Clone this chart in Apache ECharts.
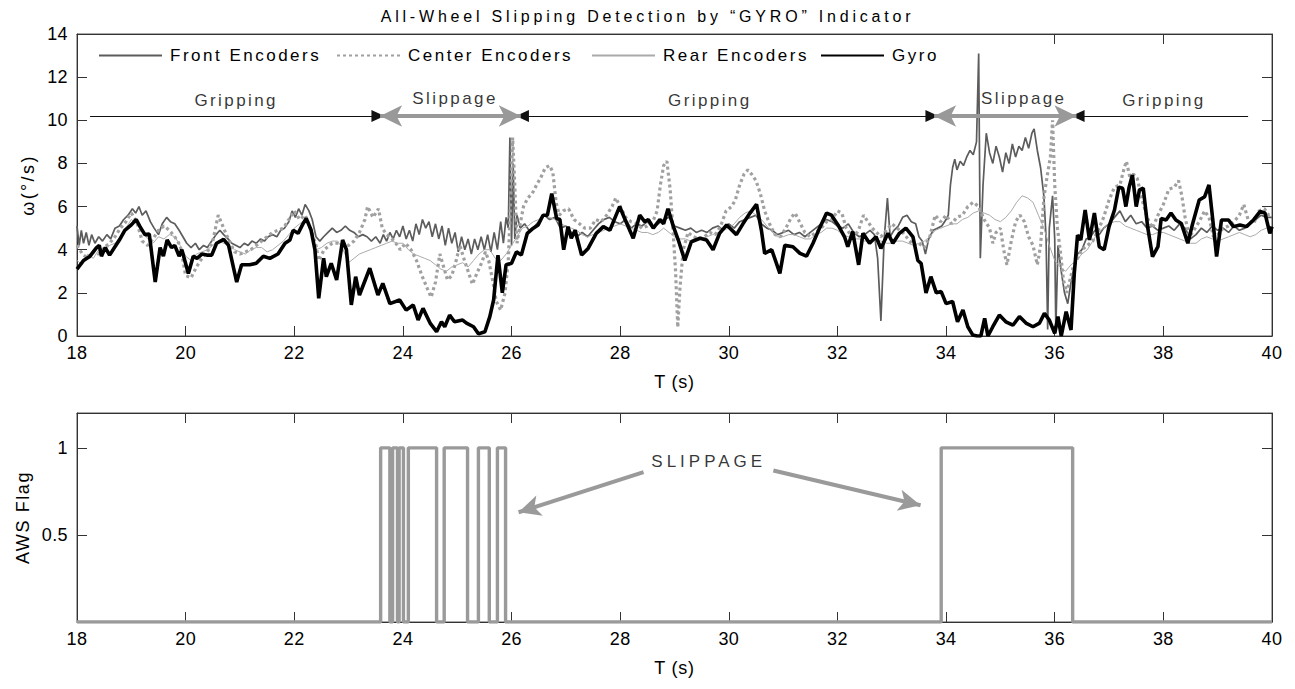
<!DOCTYPE html>
<html><head><meta charset="utf-8">
<script src="https://cdn.jsdelivr.net/npm/echarts@6/dist/echarts.min.js"></script>
<style>html,body{margin:0;padding:0;background:#fff}#main{width:1295px;height:689px}</style>
</head><body><div id="main"></div>
<script>
const titleText = 'All-Wheel Slipping Detection by “GYRO” Indicator';
const xTicks = {min:18, max:40, interval:2};
const seriesNames = ['Front Encoders','Center Encoders','Rear Encoders','Gyro'];
const flagTickLabels = [0.5, 1];

const gyro = [[18.00,3.1],[18.12,3.5],[18.24,3.7],[18.36,4.1],[18.41,4.2],[18.45,3.7],[18.52,4.1],[18.60,3.75],[18.69,4.1],[18.78,4.45],[18.88,4.9],[19.00,5.15],[19.09,5.4],[19.16,5.07],[19.25,4.7],[19.33,4.73],[19.44,2.5],[19.53,4.1],[19.59,3.7],[19.66,4.45],[19.74,4.1],[19.80,4.2],[19.88,3.7],[19.93,4.0],[20.05,2.9],[20.14,3.7],[20.21,3.6],[20.30,3.8],[20.39,3.75],[20.48,3.75],[20.57,4.3],[20.70,4.48],[20.79,4.2],[20.94,2.5],[21.03,3.3],[21.18,3.3],[21.30,3.37],[21.43,3.7],[21.55,3.6],[21.70,3.8],[21.83,4.3],[21.92,4.45],[21.98,4.9],[22.07,4.76],[22.16,5.2],[22.22,5.45],[22.31,4.9],[22.38,4.0],[22.45,1.75],[22.54,3.6],[22.59,2.75],[22.68,3.37],[22.78,2.6],[22.89,4.45],[22.96,4.0],[23.05,1.44],[23.13,2.75],[23.20,1.9],[23.39,3.14],[23.54,1.9],[23.63,2.44],[23.76,1.5],[23.94,1.67],[24.06,1.2],[24.19,1.44],[24.28,0.74],[24.37,1.28],[24.50,0.6],[24.62,0.2],[24.71,0.66],[24.77,0.43],[24.86,0.97],[24.95,0.66],[25.10,0.74],[25.17,0.6],[25.30,0.43],[25.39,0.1],[25.51,0.2],[25.60,0.9],[25.67,1.67],[25.75,3.75],[25.83,2.0],[25.90,3.3],[26.00,3.37],[26.09,3.9],[26.18,3.75],[26.29,4.76],[26.40,5.0],[26.49,5.15],[26.58,5.6],[26.66,5.6],[26.74,6.6],[26.83,5.45],[26.89,5.4],[26.96,4.0],[27.04,5.07],[27.10,4.53],[27.17,4.9],[27.29,3.75],[27.41,4.06],[27.56,4.76],[27.69,5.07],[27.81,4.9],[27.90,5.45],[27.99,6.0],[28.09,5.4],[28.24,4.53],[28.36,5.6],[28.45,5.3],[28.52,5.4],[28.61,5.0],[28.73,5.4],[28.80,5.2],[28.88,5.9],[28.98,5.07],[29.07,4.45],[29.19,3.5],[29.31,4.37],[29.47,4.53],[29.59,4.45],[29.71,4.0],[29.83,4.76],[29.96,5.15],[30.14,4.7],[30.26,5.2],[30.39,5.7],[30.51,6.1],[30.60,4.9],[30.66,3.83],[30.79,4.0],[30.94,2.9],[31.03,4.2],[31.18,4.14],[31.31,3.83],[31.43,3.7],[31.55,4.3],[31.67,5.0],[31.80,5.7],[31.89,5.6],[32.01,5.15],[32.13,4.6],[32.19,4.14],[32.28,4.84],[32.39,3.3],[32.47,4.76],[32.59,4.3],[32.71,4.6],[32.80,4.06],[32.93,4.76],[33.02,4.3],[33.14,4.76],[33.26,5.0],[33.39,4.6],[33.48,3.5],[33.54,3.37],[33.63,2.0],[33.72,2.75],[33.82,2.0],[33.91,2.06],[34.00,1.5],[34.12,1.6],[34.21,0.66],[34.31,1.2],[34.40,0.43],[34.49,0.05],[34.57,0.0],[34.64,0.0],[34.71,0.82],[34.77,0.0],[34.86,0.43],[34.98,0.97],[35.10,0.66],[35.23,0.5],[35.35,0.9],[35.47,0.6],[35.60,0.43],[35.72,0.6],[35.81,1.05],[35.90,0.74],[36.00,0.12],[36.06,0.9],[36.12,0.0],[36.21,1.13],[36.30,0.28],[36.36,2.9],[36.42,4.68],[36.48,4.45],[36.56,5.84],[36.64,4.45],[36.73,5.7],[36.82,4.14],[36.91,4.0],[37.00,5.07],[37.10,5.84],[37.18,6.9],[37.25,6.85],[37.31,6.0],[37.37,6.9],[37.43,7.47],[37.50,6.0],[37.56,6.77],[37.63,6.85],[37.71,5.07],[37.80,3.68],[37.90,4.14],[37.96,5.45],[38.05,5.38],[38.14,5.7],[38.23,5.38],[38.33,5.22],[38.45,4.3],[38.54,5.22],[38.66,6.3],[38.76,6.46],[38.84,7.0],[38.91,5.38],[38.98,3.68],[39.07,5.38],[39.20,5.38],[39.29,5.07],[39.41,5.15],[39.53,5.07],[39.66,5.38],[39.78,5.77],[39.87,5.7],[39.96,4.76],[40.00,5.07]];

const front = [[18.00,5.1],[18.04,4.2],[18.08,4.9],[18.12,4.3],[18.17,4.8],[18.22,4.2],[18.27,4.7],[18.33,4.3],[18.40,4.6],[18.47,4.4],[18.55,4.7],[18.62,4.5],[18.70,5.0],[18.78,5.1],[18.86,5.4],[18.94,5.6],[19.02,5.9],[19.08,5.7],[19.14,6.0],[19.20,5.6],[19.27,5.8],[19.35,5.3],[19.42,5.0],[19.50,4.7],[19.57,5.2],[19.65,5.5],[19.72,5.3],[19.80,5.2],[19.88,4.9],[19.95,4.6],[20.02,4.3],[20.10,4.1],[20.18,4.3],[20.25,4.0],[20.33,4.2],[20.40,4.1],[20.48,4.4],[20.56,4.7],[20.63,4.9],[20.70,4.7],[20.78,4.5],[20.85,4.3],[20.93,4.2],[21.00,4.1],[21.08,4.3],[21.15,4.2],[21.22,4.4],[21.30,4.3],[21.38,4.5],[21.45,4.4],[21.52,4.6],[21.60,4.7],[21.68,4.6],[21.75,4.9],[21.82,5.0],[21.90,5.3],[21.96,5.8],[22.02,5.5],[22.08,5.9],[22.14,5.6],[22.20,6.1],[22.27,5.8],[22.33,5.4],[22.40,4.6],[22.47,4.4],[22.54,4.6],[22.62,4.8],[22.70,5.0],[22.78,4.8],[22.86,4.9],[22.94,5.1],[23.02,4.9],[23.10,4.8],[23.18,4.6],[23.26,4.7],[23.34,4.6],[23.42,4.4],[23.50,4.6],[23.58,4.3],[23.64,4.7],[23.70,4.4],[23.76,4.8],[23.82,4.5],[23.88,4.9],[23.94,4.6],[24.00,5.1],[24.06,4.5],[24.12,4.9],[24.18,4.4],[24.24,5.2],[24.30,4.7],[24.36,5.4],[24.42,5.0],[24.48,5.3],[24.54,4.6],[24.60,5.2],[24.66,4.5],[24.72,5.1],[24.78,4.2],[24.84,5.0],[24.90,4.3],[24.96,4.8],[25.02,3.9],[25.08,4.6],[25.14,4.0],[25.20,4.5],[25.26,3.8],[25.32,4.5],[25.38,4.0],[25.44,4.6],[25.50,4.0],[25.56,4.7],[25.62,3.9],[25.68,4.8],[25.74,4.0],[25.80,5.3],[25.85,4.3],[25.90,5.5],[25.94,5.0],[25.97,9.2],[26.00,4.2],[26.03,8.0],[26.06,4.5],[26.10,5.6],[26.16,5.0],[26.24,5.2],[26.32,4.9],[26.40,5.0],[26.50,5.3],[26.60,5.6],[26.70,5.4],[26.80,5.5],[26.90,5.0],[27.00,5.1],[27.10,4.8],[27.20,4.6],[27.30,4.8],[27.40,4.6],[27.50,4.9],[27.60,5.2],[27.70,5.4],[27.80,5.5],[27.90,5.3],[28.00,5.2],[28.10,5.4],[28.20,5.0],[28.30,5.2],[28.40,5.1],[28.50,5.3],[28.60,5.0],[28.70,5.2],[28.80,5.4],[28.90,5.5],[29.00,5.1],[29.10,5.0],[29.20,4.9],[29.30,5.0],[29.40,4.8],[29.50,4.9],[29.60,4.8],[29.70,5.0],[29.80,5.1],[29.90,4.9],[30.00,5.2],[30.10,5.0],[30.20,5.3],[30.30,5.4],[30.40,5.5],[30.50,5.6],[30.60,5.2],[30.70,5.0],[30.80,4.9],[30.90,4.7],[31.00,4.8],[31.10,4.9],[31.20,4.7],[31.30,4.8],[31.40,4.6],[31.50,4.8],[31.60,5.0],[31.70,5.2],[31.80,5.4],[31.90,5.3],[32.00,5.1],[32.10,5.0],[32.20,5.2],[32.30,4.8],[32.40,4.6],[32.50,4.7],[32.60,4.9],[32.68,4.7],[32.74,3.6],[32.80,0.7],[32.86,4.5],[32.92,6.4],[32.97,4.6],[33.04,4.9],[33.12,5.1],[33.20,5.5],[33.28,5.6],[33.36,5.3],[33.44,5.2],[33.50,4.6],[33.56,4.4],[33.62,3.8],[33.68,4.5],[33.76,4.9],[33.84,5.0],[33.92,5.1],[34.00,5.4],[34.04,5.6],[34.08,7.0],[34.12,7.8],[34.16,8.2],[34.20,7.7],[34.26,8.1],[34.32,7.9],[34.38,8.3],[34.44,8.6],[34.50,8.4],[34.56,9.0],[34.60,13.1],[34.63,3.6],[34.68,7.0],[34.74,9.4],[34.80,8.5],[34.86,8.0],[34.92,8.8],[34.98,8.3],[35.04,7.6],[35.10,8.5],[35.16,8.0],[35.22,8.9],[35.28,8.3],[35.34,8.8],[35.40,8.6],[35.46,9.2],[35.52,8.7],[35.58,9.4],[35.62,9.6],[35.68,8.6],[35.74,7.8],[35.80,6.5],[35.84,4.6],[35.87,0.3],[35.90,5.0],[35.96,6.5],[36.00,4.5],[36.02,0.3],[36.06,4.2],[36.12,3.0],[36.18,2.0],[36.24,1.5],[36.30,2.5],[36.36,3.2],[36.42,3.8],[36.50,4.0],[36.58,4.5],[36.66,4.6],[36.74,4.9],[36.82,4.7],[36.90,5.0],[37.00,5.2],[37.10,5.5],[37.20,5.8],[37.30,5.3],[37.40,5.6],[37.50,5.2],[37.60,5.3],[37.70,5.0],[37.80,5.1],[37.90,4.9],[38.00,5.0],[38.10,5.1],[38.20,4.9],[38.30,5.2],[38.40,5.0],[38.50,4.5],[38.60,4.7],[38.70,5.0],[38.80,4.8],[38.90,5.1],[39.00,4.9],[39.10,5.0],[39.20,4.8],[39.30,5.1],[39.40,4.9],[39.50,5.0],[39.60,5.2],[39.70,5.4],[39.80,5.6],[39.90,5.5],[40.00,5.5]];

const center = [[18.0,4.2],[18.1,3.8],[18.2,3.6],[18.3,3.9],[18.4,3.8],[18.5,4.1],[18.6,4.3],[18.7,4.6],[18.8,5.0],[18.9,5.3],[19.0,5.7],[19.1,5.3],[19.2,4.4],[19.3,4.2],[19.4,4.5],[19.5,4.9],[19.6,5.1],[19.7,4.9],[19.8,4.6],[19.9,4.2],[20.0,2.8],[20.1,2.7],[20.2,3.2],[20.3,3.6],[20.4,3.9],[20.5,4.4],[20.6,5.6],[20.7,5.0],[20.8,4.4],[20.9,3.9],[21.0,3.8],[21.1,3.9],[21.2,4.0],[21.3,4.2],[21.4,4.4],[21.5,4.6],[21.6,4.8],[21.7,4.9],[21.8,5.0],[21.9,5.4],[22.0,5.8],[22.1,5.4],[22.2,5.6],[22.3,5.0],[22.4,4.2],[22.45,3.5],[22.55,4.0],[22.7,4.3],[22.85,4.3],[23.0,4.2],[23.1,4.4],[23.2,4.8],[23.3,5.4],[23.35,6.0],[23.45,5.5],[23.55,5.9],[23.62,5.0],[23.7,4.7],[23.8,4.5],[23.9,4.2],[23.95,4.0],[24.05,4.3],[24.15,4.0],[24.25,3.5],[24.35,2.8],[24.45,2.2],[24.52,1.8],[24.6,2.5],[24.68,3.8],[24.75,3.2],[24.82,2.6],[24.9,2.8],[24.97,3.4],[25.05,4.2],[25.12,3.6],[25.2,3.0],[25.28,2.4],[25.36,2.9],[25.45,3.4],[25.52,3.9],[25.58,3.5],[25.65,2.6],[25.72,1.6],[25.8,1.2],[25.88,2.0],[25.94,3.5],[25.98,6.0],[26.02,9.2],[26.06,7.0],[26.1,4.3],[26.16,5.2],[26.22,6.0],[26.3,6.4],[26.38,6.6],[26.46,7.0],[26.55,7.4],[26.62,7.8],[26.7,7.9],[26.76,7.6],[26.82,6.2],[26.88,5.6],[26.95,5.8],[27.05,5.9],[27.15,5.4],[27.25,5.2],[27.35,5.0],[27.45,5.0],[27.55,5.4],[27.65,5.3],[27.75,5.6],[27.85,6.0],[27.92,6.4],[28.0,6.0],[28.1,5.5],[28.2,5.3],[28.3,5.2],[28.4,5.0],[28.5,5.1],[28.6,5.3],[28.68,5.8],[28.74,7.0],[28.8,7.9],[28.86,8.1],[28.92,6.8],[28.97,5.0],[29.02,3.0],[29.06,0.4],[29.1,2.2],[29.16,4.0],[29.25,4.8],[29.35,4.6],[29.45,4.5],[29.55,4.6],[29.65,4.8],[29.75,4.7],[29.85,5.1],[29.95,5.8],[30.05,6.0],[30.12,6.3],[30.2,7.0],[30.28,7.5],[30.35,7.7],[30.42,7.5],[30.5,7.2],[30.58,6.6],[30.66,5.8],[30.75,5.2],[30.85,4.7],[30.95,4.6],[31.05,5.0],[31.15,5.5],[31.22,5.7],[31.3,5.3],[31.4,4.8],[31.5,4.6],[31.6,4.8],[31.7,5.0],[31.8,5.3],[31.9,5.4],[32.0,5.8],[32.08,5.7],[32.16,5.0],[32.24,4.7],[32.32,4.6],[32.4,5.0],[32.48,5.6],[32.56,5.3],[32.64,5.0],[32.72,4.8],[32.8,4.6],[32.9,4.9],[33.0,5.2],[33.1,5.0],[33.2,4.8],[33.3,4.5],[33.4,4.2],[33.5,4.3],[33.6,4.1],[33.7,4.6],[33.8,5.6],[33.9,5.3],[34.0,5.6],[34.1,5.2],[34.2,5.5],[34.3,5.6],[34.4,6.0],[34.5,6.2],[34.6,6.0],[34.7,5.4],[34.8,5.0],[34.86,4.3],[34.92,4.8],[35.0,5.0],[35.06,4.0],[35.12,3.3],[35.2,4.4],[35.28,5.3],[35.36,5.6],[35.44,5.3],[35.52,4.6],[35.6,4.2],[35.68,3.3],[35.74,4.2],[35.8,6.4],[35.86,7.4],[35.92,8.3],[35.96,10.0],[36.0,7.0],[36.05,5.0],[36.1,4.0],[36.16,2.6],[36.22,2.0],[36.28,2.6],[36.34,3.2],[36.4,3.5],[36.5,4.0],[36.6,4.2],[36.7,4.4],[36.8,4.9],[36.9,5.5],[37.0,6.3],[37.1,6.9],[37.2,7.0],[37.28,7.8],[37.32,8.1],[37.38,7.4],[37.45,7.5],[37.52,7.3],[37.6,6.4],[37.7,5.5],[37.8,5.0],[37.9,5.6],[38.0,6.1],[38.1,6.8],[38.2,6.9],[38.28,7.2],[38.34,6.5],[38.4,5.5],[38.48,4.6],[38.56,4.9],[38.66,5.3],[38.76,5.8],[38.84,5.5],[38.92,4.6],[39.0,4.7],[39.1,5.0],[39.2,5.1],[39.3,5.3],[39.4,5.6],[39.48,6.1],[39.56,5.4],[39.66,5.2],[39.76,5.8],[39.86,5.9],[39.94,5.6],[40.0,5.7]];

const rear = [[18.0,3.5],[18.1,3.3],[18.2,3.8],[18.3,3.6],[18.4,4.0],[18.5,3.9],[18.6,4.2],[18.7,4.3],[18.8,4.6],[18.9,5.0],[19.0,5.4],[19.1,5.2],[19.2,4.9],[19.3,4.5],[19.4,4.3],[19.5,4.6],[19.6,4.5],[19.7,4.7],[19.8,4.6],[19.9,4.2],[20.0,3.7],[20.1,3.5],[20.2,3.8],[20.3,3.9],[20.4,4.0],[20.5,4.2],[20.6,4.4],[20.7,4.3],[20.8,4.2],[20.9,4.0],[21.0,3.9],[21.1,3.8],[21.2,4.0],[21.3,4.1],[21.4,4.1],[21.5,3.9],[21.6,4.0],[21.7,4.2],[21.8,4.4],[21.9,4.7],[22.0,5.0],[22.1,5.2],[22.2,5.4],[22.3,5.0],[22.4,4.0],[22.5,4.1],[22.6,4.3],[22.7,4.4],[22.8,4.4],[22.9,4.0],[23.0,3.4],[23.1,3.6],[23.2,3.8],[23.3,3.9],[23.4,4.0],[23.5,4.1],[23.6,4.2],[23.7,4.3],[23.8,4.4],[23.9,4.3],[24.0,4.3],[24.1,4.0],[24.2,3.8],[24.3,3.7],[24.4,3.6],[24.5,3.5],[24.6,3.3],[24.7,3.1],[24.8,3.0],[24.9,3.2],[25.0,3.3],[25.1,3.4],[25.2,3.2],[25.3,3.5],[25.4,3.8],[25.5,4.0],[25.6,4.0],[25.7,3.6],[25.8,3.5],[25.9,3.8],[26.0,4.2],[26.1,4.6],[26.2,5.0],[26.3,5.1],[26.4,5.3],[26.5,5.4],[26.6,5.6],[26.7,5.5],[26.8,5.4],[26.9,5.2],[27.0,5.1],[27.1,5.0],[27.2,4.9],[27.3,4.7],[27.4,4.6],[27.5,4.7],[27.6,4.8],[27.7,4.9],[27.8,5.0],[27.9,5.1],[28.0,5.2],[28.1,5.1],[28.2,5.0],[28.3,4.9],[28.4,4.8],[28.5,4.8],[28.6,4.7],[28.7,4.8],[28.8,5.0],[28.9,4.8],[29.0,4.6],[29.1,4.5],[29.2,4.5],[29.3,4.4],[29.4,4.5],[29.5,4.5],[29.6,4.6],[29.7,4.7],[29.8,4.8],[29.9,4.9],[30.0,5.0],[30.1,5.2],[30.2,5.5],[30.3,5.7],[30.4,5.8],[30.5,5.6],[30.6,5.4],[30.7,5.1],[30.8,4.8],[30.9,4.6],[31.0,4.6],[31.1,4.7],[31.2,4.7],[31.3,4.6],[31.4,4.5],[31.5,4.5],[31.6,4.7],[31.7,4.8],[31.8,5.0],[31.9,5.0],[32.0,4.9],[32.1,4.7],[32.2,4.6],[32.3,4.5],[32.4,4.5],[32.5,4.4],[32.6,4.4],[32.7,4.5],[32.8,4.4],[32.9,4.3],[33.0,4.3],[33.1,4.4],[33.2,4.4],[33.3,4.3],[33.4,4.2],[33.5,4.3],[33.6,4.4],[33.7,4.6],[33.8,4.9],[33.9,5.0],[34.0,5.1],[34.1,5.2],[34.2,5.2],[34.3,5.4],[34.4,5.5],[34.5,5.7],[34.6,5.8],[34.7,5.7],[34.8,5.6],[34.9,5.4],[35.0,5.3],[35.1,5.5],[35.2,5.8],[35.3,6.2],[35.4,6.5],[35.5,6.4],[35.6,6.2],[35.7,5.6],[35.8,5.0],[35.9,4.2],[36.0,3.5],[36.1,3.2],[36.2,3.0],[36.3,3.3],[36.4,3.5],[36.5,3.8],[36.6,4.0],[36.7,4.4],[36.8,4.8],[36.9,5.0],[37.0,5.2],[37.1,5.3],[37.2,5.3],[37.3,5.1],[37.4,5.0],[37.5,4.9],[37.6,4.8],[37.7,4.7],[37.8,4.7],[37.9,4.8],[38.0,4.8],[38.1,4.7],[38.2,4.6],[38.3,4.5],[38.4,4.4],[38.5,4.3],[38.6,4.3],[38.7,4.5],[38.8,4.6],[38.9,4.5],[39.0,4.4],[39.1,4.5],[39.2,4.6],[39.3,4.7],[39.4,4.8],[39.5,4.7],[39.6,4.6],[39.7,4.7],[39.8,4.9],[39.9,5.0],[40.0,5.0]];

// AWS flag: intervals where flag = 1
const flagOn = [[23.59,23.76],[23.81,23.90],[23.93,24.01],[24.10,24.62],[24.76,25.19],[25.39,25.59],[25.74,25.89],[33.91,36.33]];

// Phase annotations (top plot)
const gripArrows = [[18.24,23.54,'none','triangle'],[26.20,33.74,'triangle','triangle'],[36.43,39.56,'triangle','none']];
const slipArrows = [[23.58,26.17],[33.78,36.40]];
const phaseY = 10.2;
const phaseLabels = [['Gripping',20.93,10.9],['Slippage',24.96,11.0],['Gripping',29.65,10.9],['Slippage',35.43,11.0],['Gripping',38.01,10.9]];
// Bottom annotation
const slipText = ['SLIPPAGE',29.63,0.92];
const slipPointers = [[[28.43,0.86],[26.13,0.63]],[[30.82,0.87],[33.53,0.67]]];

// build flag line
const flagData = [[18,0]];
flagOn.forEach(([a,b])=>{flagData.push([a,0],[a,1],[b,1],[b,0]);});
flagData.push([40,0]);

const FONT = 'Liberation Sans, Arial, Helvetica, sans-serif';
const grids = [{left:77,right:23,top:34,height:302},{left:77,right:23,top:413,height:209}];
function xAx(g, pos, labels){
  return {type:'value', gridIndex:g, position:pos, min:xTicks.min, max:xTicks.max, interval:xTicks.interval,
    axisLine:{show:true, onZero:false, lineStyle:{color:'#333',width:1}},
    axisTick:{show:true, inside:true, length:10, lineStyle:{color:'#333'}},
    axisLabel:{show:labels, margin:8, fontSize:18, color:'#000', fontFamily:FONT},
    splitLine:{show:false},
    name: labels ? 'T (s)' : '', nameLocation:'middle', nameGap:37,
    nameTextStyle:{fontSize:18, color:'#000', fontFamily:FONT}};
}
function yAx(g, pos, labels, min, max, interval, name){
  return {type:'value', gridIndex:g, position:pos, min:min, max:max, interval:interval,
    axisLine:{show:true, onZero:false, lineStyle:{color:'#333',width:1}},
    axisTick:{show:true, inside:true, length:10, lineStyle:{color:'#333'}},
    axisLabel:{show:labels, margin:9, fontSize:18, color:'#000', fontFamily:FONT, showMaxLabel: g===0,
      formatter: v => (g===1 && flagTickLabels.indexOf(v) < 0) ? '' : String(v)},
    splitLine:{show:false},
    name: labels ? name : '', nameLocation:'middle', nameGap:38, nameRotate:90,
    nameTextStyle:{fontSize:18, color:'#000', fontFamily:FONT}};
}

const legendPos = [98,336,591,820];
const legends = seriesNames.map((n,i)=>({data:[n], left:legendPos[i], top:47, padding:0, itemWidth:63, itemHeight:18, z:20,
  itemStyle:{opacity:0},
  textStyle:{fontSize:17, color:'#000', fontFamily:FONT, padding:[0,0,0,3]}, selectedMode:false}));

const option = {
  animation:false,
  backgroundColor:'#fff',
  title:{text:titleText, left:'center', top:3, textStyle:{fontSize:16, fontWeight:'normal', color:'#000', fontFamily:FONT}},
  grid: grids.map(g=>Object.assign({show:true, borderColor:'#555', borderWidth:1, backgroundColor:'transparent'}, g)),
  legend: legends,
  graphic:[{type:'rect', z:10, shape:{x:85, y:35, width:870, height:40}, style:{fill:'#fff'}}],
  xAxis:[xAx(0,'bottom',true), xAx(0,'top',false), xAx(1,'bottom',true), xAx(1,'top',false)],
  yAxis:[yAx(0,'left',true,0,14,2,'ω(°/s)'), yAx(0,'right',false,0,14,2,''),
         yAx(1,'left',true,0,1.2,0.5,'AWS Flag'), yAx(1,'right',false,0,1.2,0.5,'')],
  series:[
    {name:'Front Encoders', type:'line', xAxisIndex:0, yAxisIndex:0, data:front, symbol:'none', z:2,
      lineStyle:{color:'#5c5c5c', width:1.7}, itemStyle:{color:'#5c5c5c'}},
    {name:'Center Encoders', type:'line', xAxisIndex:0, yAxisIndex:0, data:center, symbol:'none', z:2,
      lineStyle:{color:'#a0a0a0', width:3.2, type:[3,3]}, itemStyle:{color:'#a0a0a0'}},
    {name:'Rear Encoders', type:'line', xAxisIndex:0, yAxisIndex:0, data:rear, symbol:'none', z:2,
      lineStyle:{color:'#aaaaaa', width:1}, itemStyle:{color:'#aaaaaa'}},
    {name:'Gyro', type:'line', xAxisIndex:0, yAxisIndex:0, data:gyro, symbol:'none', z:3,
      lineStyle:{color:'#000', width:3.6}, itemStyle:{color:'#000'}},
    {name:'phases', type:'line', xAxisIndex:0, yAxisIndex:0, data:[], symbol:'none', silent:true, z:4,
      markLine:{silent:true, animation:false, label:{show:false},
        data: gripArrows.map(([a,b,s1,s2])=>[
          {coord:[a,phaseY], symbol:s1, symbolSize:[12,13], lineStyle:{color:'#111', width:1.2, type:'solid'}},
          {coord:[b,phaseY], symbol:s2, symbolSize:[12,13]}]).concat(
          slipArrows.map(([a,b])=>[
          {coord:[a,phaseY], symbol:'arrow', symbolSize:[16,22], itemStyle:{color:'#999'}, lineStyle:{color:'#999', width:4, type:'solid'}},
          {coord:[b,phaseY], symbol:'arrow', symbolSize:[16,22], itemStyle:{color:'#999'}}]))
      }},
    {name:'phaseText', type:'scatter', xAxisIndex:0, yAxisIndex:0, symbolSize:0, silent:true, z:5,
      data: phaseLabels.map(([t,x,y])=>({name:t, value:[x,y]})),
      label:{show:true, position:'inside', formatter:'{b}', color:'#000', fontSize:17, fontFamily:FONT}},
    {name:'AWS Flag', type:'line', xAxisIndex:2, yAxisIndex:2, data:flagData, symbol:'none', z:2,
      lineStyle:{color:'#9a9a9a', width:3.4}, itemStyle:{color:'#9a9a9a'},
      markLine:{silent:true, animation:false, label:{show:false}, symbol:['none','arrow'], symbolSize:[16,22],
        itemStyle:{color:'#9a9a9a'}, lineStyle:{color:'#9a9a9a', width:4, type:'solid'},
        data: slipPointers.map(([p,q])=>[{coord:p},{coord:q}])}},
    {name:'slipText', type:'scatter', xAxisIndex:2, yAxisIndex:2, symbolSize:0, silent:true, z:5,
      data:[{name:slipText[0], value:[slipText[1], slipText[2]]}],
      label:{show:true, position:'inside', formatter:'{b}', color:'#000', fontSize:17, fontFamily:FONT}}
  ]
};

const chart = echarts.init(document.getElementById('main'), null, {renderer:'svg'});
function spacing(s){
  if (s === titleText) return 3.8;
  if (seriesNames.indexOf(s) >= 0) return 2.5;
  if (s === 'Gripping' || s === 'Slippage') return 2.4;
  if (s === 'SLIPPAGE') return 4;
  if (s === 'AWS Flag') return 1.6;
  if (s === 'ω(°/s)') return 2.4;
  if (s === 'T (s)') return 0.8;
  return 0.4;
}
function applySpacing(){
  document.querySelectorAll('#main svg text').forEach(t=>{
    t.style.letterSpacing = spacing(t.textContent) + 'px';
  });
}
chart.on('finished', applySpacing);
chart.setOption(option);
applySpacing();
</script></body></html>
